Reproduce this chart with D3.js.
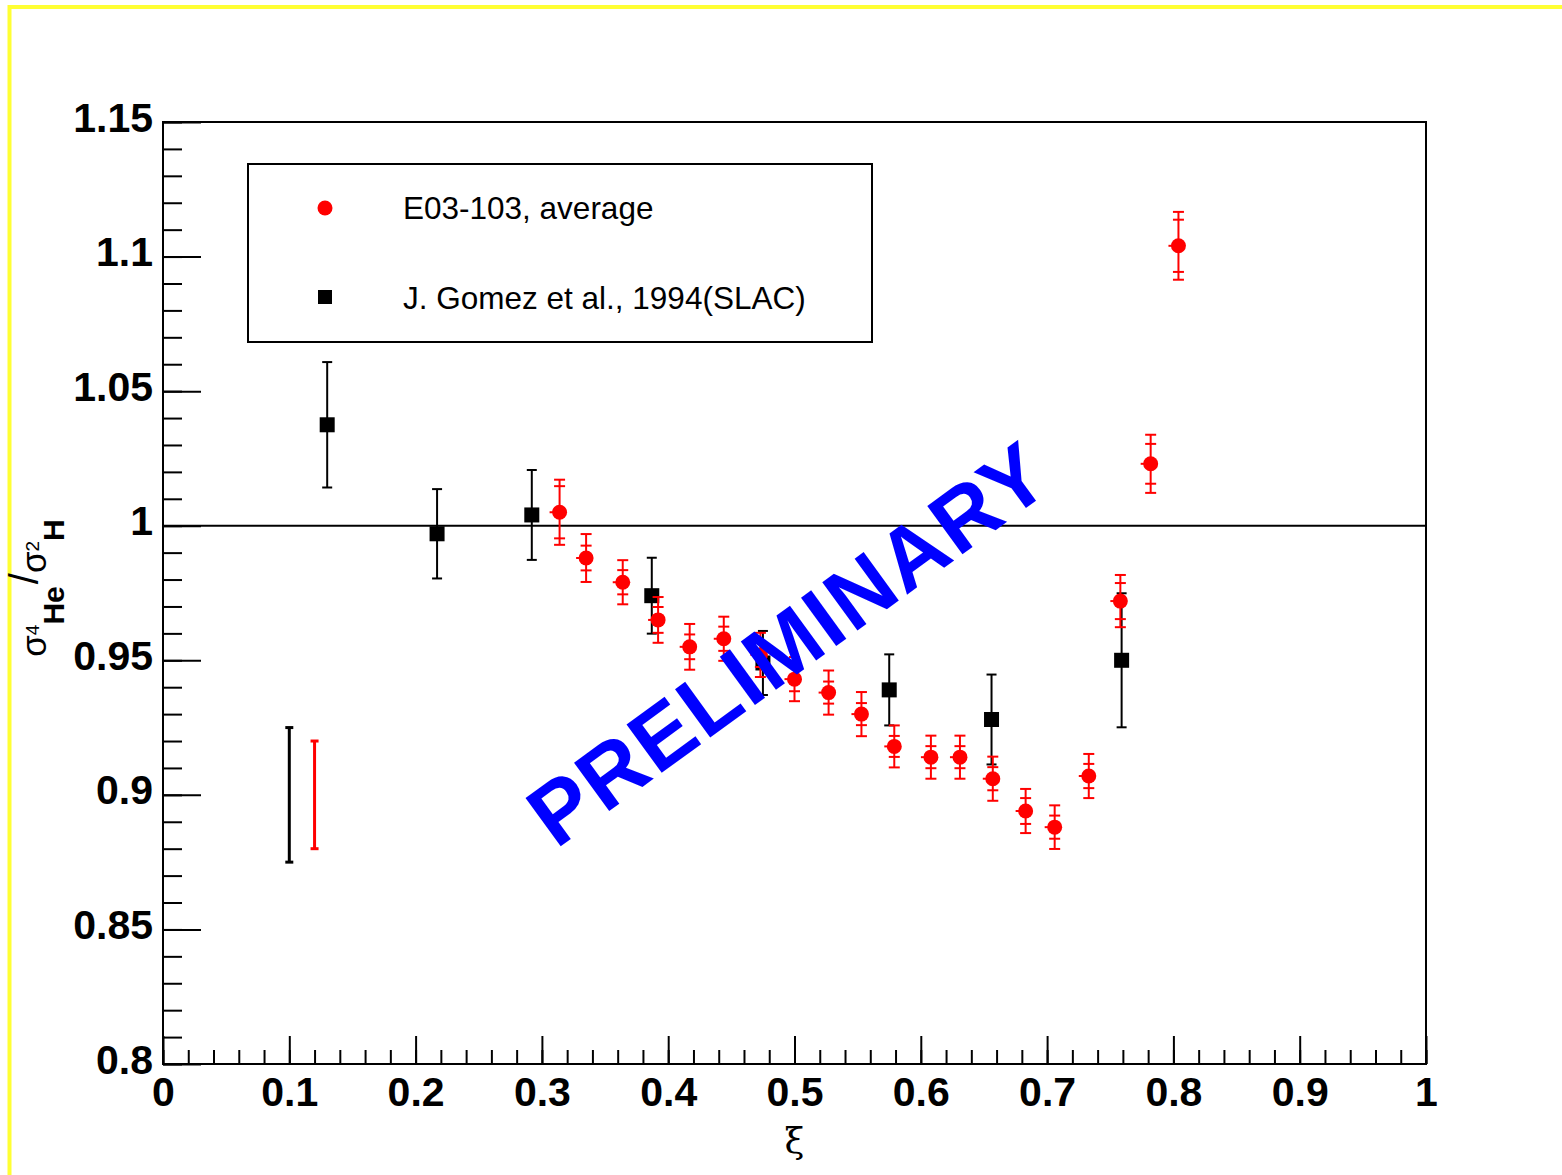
<!DOCTYPE html>
<html>
<head>
<meta charset="utf-8">
<script src="https://cdn.jsdelivr.net/npm/d3@7"></script>
<style>
  body { margin: 0; background: #fff; }
  text { font-family: "Liberation Sans", Arial, sans-serif; }
</style>
</head>
<body>
<div id="chart"></div>
<script>
// E03-103 average (red circles): xi, ratio, inner (stat) and outer (total) errors
var e03Xi    = [0.314, 0.335, 0.364, 0.392, 0.417, 0.444, 0.473, 0.500, 0.527, 0.553,
                0.579, 0.608, 0.631, 0.657, 0.683, 0.706, 0.733, 0.758, 0.782, 0.804];
var e03Ratio = [1.005, 0.988, 0.979, 0.965, 0.955, 0.958, 0.952, 0.943, 0.938, 0.930,
                0.918, 0.914, 0.914, 0.906, 0.894, 0.888, 0.907, 0.972, 1.023, 1.104];
var e03Stat  = [0.0097, 0.0046, 0.0045, 0.0048, 0.0046, 0.0045, 0.0045, 0.0045, 0.0041, 0.0041,
                0.0039, 0.0041, 0.0041, 0.0043, 0.0048, 0.0043, 0.0045, 0.0067, 0.0074, 0.0097];
var e03Tot   = [0.0121, 0.0089, 0.0082, 0.0085, 0.0085, 0.0082, 0.0082, 0.0082, 0.0082, 0.0082,
                0.0078, 0.0080, 0.0080, 0.0082, 0.0082, 0.0081, 0.0082, 0.0097, 0.0108, 0.0126];

// J. Gomez et al. 1994 (SLAC), black squares
var slacXi    = [0.130, 0.217, 0.292, 0.387, 0.475, 0.575, 0.656, 0.759];
var slacRatio = [1.0375, 0.997, 1.004, 0.974, 0.949, 0.939, 0.928, 0.950];
var slacErr   = [0.0233, 0.0166, 0.0167, 0.0141, 0.0119, 0.0132, 0.0167, 0.0249];

// normalisation uncertainty bars drawn at lower left
var normXi     = [0.10, 0.12];
var normCenter = [0.9, 0.9];
var normErr    = [0.025, 0.020];
var normColor  = ["#000", "#ff0000"];

var xTicks = [0, 0.1, 0.2, 0.3, 0.4, 0.5, 0.6, 0.7, 0.8, 0.9, 1];
var yTicks = [0.8, 0.85, 0.9, 0.95, 1, 1.05, 1.1, 1.15];

var legendLabels = ["E03-103, average", "J. Gomez et al., 1994(SLAC)"];

var W = 1562, H = 1175;
var padL = 163, padR = 1426, padT = 122, padB = 1064;

var svg = d3.select("#chart").append("svg")
  .attr("width", W)
  .attr("height", H);

svg.append("rect").attr("width", W).attr("height", H).attr("fill", "#fff");

// yellow outer border
svg.append("rect")
  .attr("x", 9.5).attr("y", 7)
  .attr("width", W + 20).attr("height", H + 20)
  .attr("fill", "none")
  .attr("stroke", "#ffff33")
  .attr("stroke-width", 4);

var x = d3.scaleLinear().domain([0, 1]).range([padL, padR]);
var y = d3.scaleLinear().domain([0.8, 1.15]).range([padB, padT]);

var fmt = function (d) { return String(+d.toFixed(2)); };

// x axis: major + minor ticks pointing inside
var xMajor = svg.append("g")
  .attr("transform", "translate(0," + padB + ")")
  .call(d3.axisBottom(x).tickValues(xTicks).tickSize(-28).tickPadding(13).tickFormat(fmt));
var xMinor = svg.append("g")
  .attr("transform", "translate(0," + padB + ")")
  .call(d3.axisBottom(x).tickValues(d3.range(0, 1.001, 0.02)).tickSize(-14).tickFormat(""));

var yMajor = svg.append("g")
  .attr("transform", "translate(" + padL + ",0)")
  .call(d3.axisLeft(y).tickValues(yTicks).tickSize(-38).tickPadding(10).tickFormat(fmt));
var yMinor = svg.append("g")
  .attr("transform", "translate(" + padL + ",0)")
  .call(d3.axisLeft(y).tickValues(d3.range(0.8, 1.1501, 0.01)).tickSize(-19).tickFormat(""));

[xMajor, xMinor, yMajor, yMinor].forEach(function (g) {
  g.select(".domain").remove();
  g.selectAll("line").attr("stroke", "#000").attr("stroke-width", 2);
  g.selectAll("text")
    .attr("fill", "#000")
    .style("font-size", "41px")
    .style("font-weight", "bold")
    .style("font-family", "'Liberation Sans', Arial, sans-serif");
});
yMajor.selectAll("text").attr("dy", "0.22em");

// frame
svg.append("rect")
  .attr("x", padL).attr("y", padT)
  .attr("width", padR - padL).attr("height", padB - padT)
  .attr("fill", "none")
  .attr("stroke", "#000")
  .attr("stroke-width", 2);

// reference line at ratio = 1
svg.append("line")
  .attr("x1", x(0)).attr("x2", x(1))
  .attr("y1", y(1)).attr("y2", y(1))
  .attr("stroke", "#000").attr("stroke-width", 2);

// SLAC points
var slac = slacXi.map(function (d, i) { return { x: d, y: slacRatio[i], e: slacErr[i] }; });
var gs = svg.append("g").selectAll("g").data(slac).enter().append("g");
gs.append("line")
  .attr("x1", function (d) { return x(d.x); }).attr("x2", function (d) { return x(d.x); })
  .attr("y1", function (d) { return y(d.y + d.e); }).attr("y2", function (d) { return y(d.y - d.e); })
  .attr("stroke", "#000").attr("stroke-width", 2);
[1, -1].forEach(function (s) {
  gs.append("line")
    .attr("x1", function (d) { return x(d.x) - 5; }).attr("x2", function (d) { return x(d.x) + 5; })
    .attr("y1", function (d) { return y(d.y + s * d.e); }).attr("y2", function (d) { return y(d.y + s * d.e); })
    .attr("stroke", "#000").attr("stroke-width", 2);
});
gs.append("rect")
  .attr("x", function (d) { return x(d.x) - 7.5; })
  .attr("y", function (d) { return y(d.y) - 7.5; })
  .attr("width", 15).attr("height", 15)
  .attr("fill", "#000");

// E03-103 points
var e03 = e03Xi.map(function (d, i) {
  return { x: d, y: e03Ratio[i], s: e03Stat[i], t: e03Tot[i] };
});
var ge = svg.append("g").selectAll("g").data(e03).enter().append("g");
ge.append("line")
  .attr("x1", function (d) { return x(d.x); }).attr("x2", function (d) { return x(d.x); })
  .attr("y1", function (d) { return y(d.y + d.t); }).attr("y2", function (d) { return y(d.y - d.t); })
  .attr("stroke", "#ff0000").attr("stroke-width", 2);
["s", "t"].forEach(function (k) {
  [1, -1].forEach(function (s) {
    ge.append("line")
      .attr("x1", function (d) { return x(d.x) - 5.5; }).attr("x2", function (d) { return x(d.x) + 5.5; })
      .attr("y1", function (d) { return y(d.y + s * d[k]); }).attr("y2", function (d) { return y(d.y + s * d[k]); })
      .attr("stroke", "#ff0000").attr("stroke-width", 2);
  });
});
ge.append("line")
  .attr("x1", function (d) { return x(d.x) - 10; }).attr("x2", function (d) { return x(d.x); })
  .attr("y1", function (d) { return y(d.y); }).attr("y2", function (d) { return y(d.y); })
  .attr("stroke", "#ff0000").attr("stroke-width", 2);
ge.append("circle")
  .attr("cx", function (d) { return x(d.x); })
  .attr("cy", function (d) { return y(d.y); })
  .attr("r", 7.5)
  .attr("fill", "#ff0000");

// normalisation bars
normXi.forEach(function (nx, i) {
  var g = svg.append("g").attr("stroke", normColor[i]).attr("stroke-width", 3);
  g.append("line")
    .attr("x1", x(nx)).attr("x2", x(nx))
    .attr("y1", y(normCenter[i] + normErr[i])).attr("y2", y(normCenter[i] - normErr[i]));
  [1, -1].forEach(function (s) {
    g.append("line")
      .attr("x1", x(nx) - 4).attr("x2", x(nx) + 4)
      .attr("y1", y(normCenter[i] + s * normErr[i])).attr("y2", y(normCenter[i] + s * normErr[i]));
  });
});

// legend
var leg = svg.append("g");
leg.append("rect")
  .attr("x", 248).attr("y", 164).attr("width", 624).attr("height", 178)
  .attr("fill", "#fff").attr("stroke", "#000").attr("stroke-width", 2);
leg.append("circle").attr("cx", 325).attr("cy", 208).attr("r", 7.5).attr("fill", "#ff0000");
leg.append("rect").attr("x", 318).attr("y", 290).attr("width", 14).attr("height", 14).attr("fill", "#000");
leg.selectAll("text.lab").data(legendLabels).enter().append("text")
  .attr("class", "lab")
  .attr("x", 403)
  .attr("y", function (d, i) { return i === 0 ? 219 : 309; })
  .style("font-size", "31.5px")
  .attr("fill", "#000")
  .text(function (d) { return d; });

// axis titles
svg.append("text")
  .attr("x", x(0.5)).attr("y", 1153)
  .attr("text-anchor", "middle")
  .style("font-size", "36px")
  .style("font-family", "'DejaVu Serif', 'Liberation Serif', serif")
  .text("ξ");

var yt = svg.append("text")
  .attr("transform", "translate(46,588) rotate(-90)")
  .attr("text-anchor", "middle")
  .attr("fill", "#000");
yt.append("tspan").style("font-size", "35px").text("σ");
yt.append("tspan").style("font-size", "19px").attr("dy", -7).text("4");
yt.append("tspan").style("font-size", "30px").style("font-weight", "bold").attr("dy", 25).text("He");
yt.append("tspan").style("font-size", "40px").attr("dx", 2).attr("dy", -26).text("/");
yt.append("tspan").style("font-size", "35px").attr("dy", 8).text("σ");
yt.append("tspan").style("font-size", "19px").attr("dy", -7).text("2");
yt.append("tspan").style("font-size", "30px").style("font-weight", "bold").attr("dy", 25).text("H");

// PRELIMINARY stamp
svg.append("text")
  .attr("transform", "translate(806,668) rotate(-36)")
  .attr("text-anchor", "middle")
  .style("font-size", "87px")
  .style("font-weight", "bold")
  .style("letter-spacing", "2px")
  .attr("fill", "#0000ff")
  .text("PRELIMINARY");
</script>
</body>
</html>
